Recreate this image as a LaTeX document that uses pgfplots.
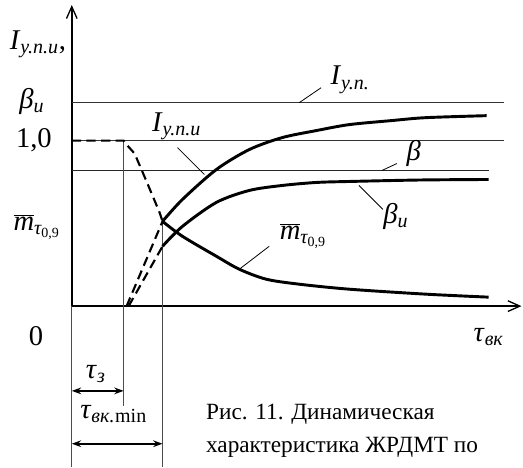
\documentclass[border=0pt]{standalone}
\usepackage{pgfplots}
\pgfplotsset{compat=1.18}
\usetikzlibrary{arrows.meta}
\usepackage{fontspec}
\setmainfont{Liberation Serif}
\newcommand{\sub}[1]{\textsubscript{\itshape #1}}
\newcommand{\mbar}{$\overline{\mbox{\itshape m}}$\sub{τ\textsubscript{\upshape 0,9}}}
\tikzset{lbl/.style={font=\fontsize{21.5}{24}\selectfont, inner sep=0pt}}
\begin{document}
\begin{tikzpicture}
\begin{axis}[
  x=0.75pt, y=0.75pt,
  xmin=0, xmax=451, ymin=0, ymax=302,
  enlargelimits=false,
  axis lines=left,
  axis line style={line width=1.5pt, -{Straight Barb[length=9pt,width=8pt,line width=1pt]}},
  ticks=none,
  clip=false,
]
% bounding box
\path (axis cs:-72,-161) rectangle (axis cs:451,307);
% horizontal reference lines
\addplot[draw=black!80, line width=0.9pt] coordinates {(0,204) (433,204)};
\addplot[draw=black!80, line width=0.9pt] coordinates {(0,166) (433,166)};
\addplot[draw=black!85, line width=0.8pt] coordinates {(0,136) (418,136)};
% thin vertical lines
\addplot[draw=black!70, line width=0.7pt] coordinates {(0,0) (0,-161)};
\addplot[draw=black!70, line width=0.7pt] coordinates {(52,166) (52,-100)};
\addplot[draw=black!70, line width=0.7pt] coordinates {(91,85) (91,-161)};
% dashed parts
\addplot[black, line width=1.6pt, dash pattern=on 7pt off 4pt] coordinates {(0,166) (52,166) (54,163) (63,153) (75,125) (88,94) (91,85)};
\addplot[black, line width=1.6pt, dash pattern=on 7pt off 4pt] coordinates {(55,0) (91,85)};
\addplot[black, line width=1.6pt, dash pattern=on 7pt off 4pt] coordinates {(57,0) (91,60)};
% I_y.n.u curve
\addplot[black, line width=2.2pt, smooth, tension=0.5] coordinates {(91,85) (111,107) (145,137) (178,157) (211,169) (245,176) (278,182) (320,186) (355,189) (416,191)};
% beta_u curve
\addplot[black, line width=2.2pt, smooth, tension=0.5] coordinates {(91,60) (111,80) (145,104) (178,116) (211,121) (245,124) (278,125) (350,126.5) (418,127)};
% m bar curve
\addplot[black, line width=2.2pt, smooth, tension=0.5] coordinates {(91,85) (111,70) (145,50) (168,37) (195,27) (228,22) (278,17) (355,12) (418,9)};
% leader lines
\addplot[black, line width=0.6pt] coordinates {(228,204) (250,219)};
\addplot[black, line width=0.6pt] coordinates {(106,159) (133,132)};
\addplot[black, line width=0.6pt] coordinates {(311,136) (326,143)};
\addplot[black, line width=0.6pt] coordinates {(288,121) (312,97)};
\addplot[black, line width=0.6pt] coordinates {(168,37) (198,60)};
% dimension arrows
\draw[{Stealth[length=7pt,width=5pt]}-{Stealth[length=7pt,width=5pt]}, line width=1.2pt] (axis cs:0,-85) -- (axis cs:52,-85);
\draw[{Stealth[length=7pt,width=5pt]}-{Stealth[length=7pt,width=5pt]}, line width=1.2pt] (axis cs:0,-138) -- (axis cs:91,-138);
% labels
\node[lbl] at (axis cs:-34,263) {\textit{I}\sub{у.п.и},};
\node[lbl] at (axis cs:-40,205) {\textit{β}\sub{и}};
\node[lbl] at (axis cs:-38,166) {1,0};
\node[lbl] at (axis cs:-35,79) {\mbar};
\node[lbl] at (axis cs:-36,-30) {0};
\node[lbl] at (axis cs:418,-31) {\textit{τ}\sub{вк}};
\node[lbl] at (axis cs:24,-68) {\textit{τ}\sub{з}};
\node[lbl] at (axis cs:42,-108) {\textit{τ}\sub{вк.}\textsubscript{min}};
\node[lbl] at (axis cs:279,227) {\textit{I}\sub{у.п.}};
\node[lbl] at (axis cs:105,180) {\textit{I}\sub{у.п.и}};
\node[lbl] at (axis cs:343,153) {\textit{β}};
\node[lbl] at (axis cs:325,90) {\textit{β}\sub{и}};
\node[lbl] at (axis cs:232,70) {\mbar};
\node[anchor=west, align=left, font=\fontsize{17.5}{25}\selectfont] at (axis cs:130,-125) {Рис. 11. Динамическая\\характеристика ЖРДМТ по};
\end{axis}
\end{tikzpicture}
\end{document}
